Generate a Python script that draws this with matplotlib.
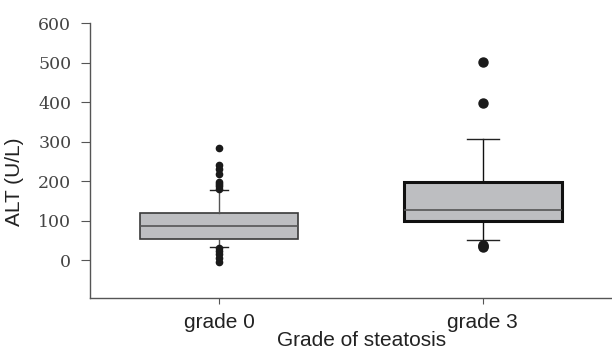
import matplotlib
matplotlib.use("Agg")
import matplotlib.pyplot as plt

categories = ["grade 0", "grade 3"]
q1 = [53, 100]
median = [87, 128]
q3 = [119, 197]
whislo = [35, 51]
whishi = [179, 306]
fliers = [
    [181, 187, 192, 199, 218, 230, 240, 283, 32, 23, 15, 7, -4],
    [502, 397, 40, 37, 35],
]
yticks = [0, 100, 200, 300, 400, 500, 600]

fig = plt.figure(figsize=(6.12, 3.49), dpi=100)
ax = fig.add_axes([90/612, 1-298/349, 1-90/612, (298-23)/349])

stats = []
for i, c in enumerate(categories):
    stats.append(dict(label=c, q1=q1[i], med=median[i], q3=q3[i],
                      whislo=whislo[i], whishi=whishi[i], fliers=fliers[i]))

box_lw = [1.2, 2.2]
box_ec = ["#3a3a3a", "#111111"]
cap_w = [0.07, 0.12]
mk_size = [4.5, 6.5]
for i, s in enumerate(stats):
    ax.bxp([s], positions=[i], widths=0.6, patch_artist=True,
           boxprops=dict(facecolor="#bdbec1", edgecolor=box_ec[i], linewidth=box_lw[i]),
           medianprops=dict(color="#555555", linewidth=1.2),
           whiskerprops=dict(color="#555555" if i == 0 else "#111111", linewidth=1.0),
           capprops=dict(color="#222222", linewidth=1.0),
           capwidths=cap_w[i],
           flierprops=dict(marker="o", markerfacecolor="#1a1a1a", markeredgecolor="#1a1a1a",
                           markersize=mk_size[i]))

ax.set_xlim(-0.49, 1.49)
ax.set_ylim(-95, 600)
ax.set_yticks(yticks)
ax.set_yticklabels([str(t) for t in yticks], fontfamily="DejaVu Serif", fontsize=12.5, color="#444444")
ax.set_xticks([0, 1])
ax.set_xticklabels(categories, fontfamily="Liberation Sans", fontsize=15, color="#222222")
for sp in ["top", "right"]:
    ax.spines[sp].set_visible(False)
for sp in ["left", "bottom"]:
    ax.spines[sp].set_color("#555555")
    ax.spines[sp].set_linewidth(1.0)
ax.tick_params(axis="y", length=6.5, pad=7, color="#555555")
ax.tick_params(axis="x", length=4, pad=7, color="#555555")
ax.set_ylabel("ALT (U/L)", fontfamily="Liberation Sans", fontsize=15, color="#222222")
ax.yaxis.set_label_coords((24-90)/522, (298-182)/275)
fig.text(362/612, 1-340/349, "Grade of steatosis", ha="center", va="center",
         fontfamily="Liberation Sans", fontsize=15, color="#222222")

fig.savefig("out.png", dpi=100)
